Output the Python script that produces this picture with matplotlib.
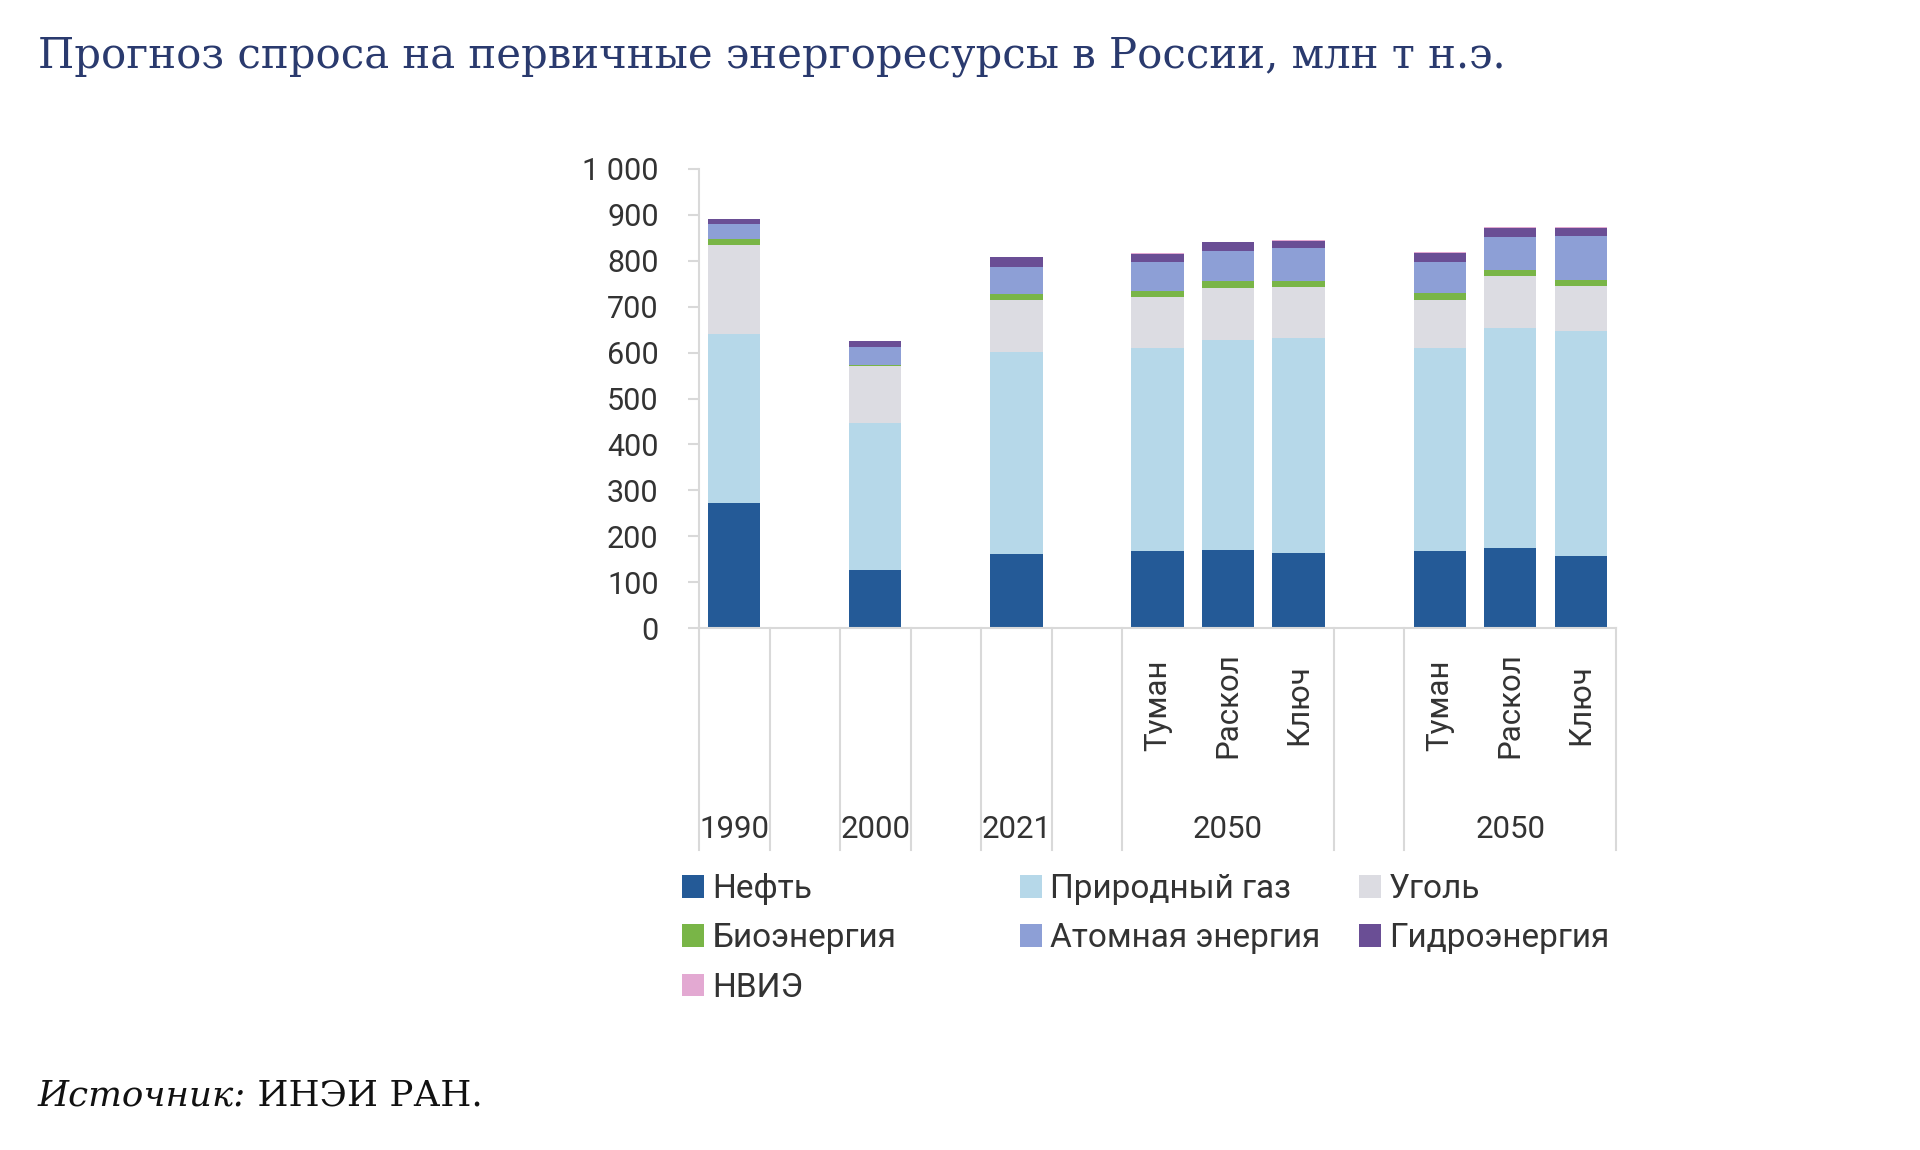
import numpy as np
import matplotlib
matplotlib.use("Agg")
import matplotlib.pyplot as plt
from matplotlib.patches import Patch
import matplotlib.transforms as mtransforms

# ---------------- data ----------------
title = "Прогноз спроса на первичные энергоресурсы в России, млн т н.э."
source_italic = "Источник:"
source_regular = " ИНЭИ РАН."

# 13 category slots ('' = empty gap slot)
scenarios = ['', '', '', '', '', '', 'Туман', 'Раскол', 'Ключ', '', 'Туман', 'Раскол', 'Ключ']
years     = ['1990', '', '2000', '', '2021', '', '2050', '2050', '2050', '', '2050', '2050', '2050']

series_names = ['Нефть', 'Природный газ', 'Уголь', 'Биоэнергия',
                'Атомная энергия', 'Гидроэнергия', 'НВИЭ']
oil   = [272, None, 127, None, 161, None, 168, 170, 163, None, 168, 174, 157]
gas   = [368, None, 319, None, 441, None, 442, 458, 468, None, 442, 479, 491]
coal  = [195, None, 124, None, 113, None, 112, 112, 111, None, 105, 113, 98]
bio   = [12,  None, 4,   None, 12,  None, 13,  15,  13,  None, 14,  15,  12]
nuc   = [33,  None, 39,  None, 60,  None, 63,  67,  72,  None, 69,  71,  97]
hydro = [12,  None, 12,  None, 21,  None, 17,  18,  17,  None, 20,  20,  17]
nvie  = [0,   None, 0,   None, 0,   None, 1,   1,   1,   None, 1,   2,   1]

colors = ['#245a97', '#b6d8e9', '#dcdce2', '#79b547', '#8d9fd6', '#6a4e95', '#e3a9d2']

yticks = [0, 100, 200, 300, 400, 500, 600, 700, 800, 900, 1000]
ytick_labels = ['0', '100', '200', '300', '400', '500', '600', '700', '800', '900', '1 000']

# ---------------- figure ----------------
FONT = ['Roboto', 'DejaVu Sans']
plt.rcParams['font.family'] = FONT
TXT = '#333333'
LINE = '#d9d9d9'

W, H = 1920, 1150
fig = plt.figure(figsize=(W / 100, H / 100), dpi=100)
fig.patch.set_facecolor('white')

x0, x1, yb, yt = 699, 1616, 628, 169
ax = fig.add_axes([x0 / W, 1 - yb / H, (x1 - x0) / W, (yb - yt) / H])

x = np.arange(len(scenarios))
series = [oil, gas, coal, bio, nuc, hydro, nvie]
bottom = np.zeros(len(x))
for name, vals, c in zip(series_names, series, colors):
    v = np.array([np.nan if s is None else s for s in vals], dtype=float)
    mask = ~np.isnan(v)
    ax.bar(x[mask], v[mask], bottom=bottom[mask], width=0.74, color=c,
           edgecolor='none', label=name, zorder=2)
    bottom = bottom + np.nan_to_num(v)

ax.set_xlim(-0.5, len(x) - 0.5)
ax.set_ylim(0, 1000)
for side in ['top', 'right']:
    ax.spines[side].set_visible(False)
for side in ['left', 'bottom']:
    ax.spines[side].set_color(LINE)
    ax.spines[side].set_linewidth(1.5)
ax.set_yticks(yticks)
ax.set_yticklabels(ytick_labels)
ax.tick_params(axis='y', length=8, width=1.5, color=LINE, labelsize=22,
               labelcolor=TXT, pad=21)
ax.set_xticks([])

# multi-level category axis
trans = mtransforms.blended_transform_factory(ax.transData, ax.transAxes)
sep_bottom = -(850 - yb) / (yb - yt)
bounds = [-0.5]
i = 0
groups = []
while i < len(years):
    if years[i] == '':
        bounds.append(i + 0.5)
        i += 1
        continue
    j = i
    while j + 1 < len(years) and years[j + 1] == years[i] and scenarios[j + 1] != '':
        j += 1
    groups.append((years[i], i, j))
    bounds.append(j + 0.5)
    i = j + 1
for b in sorted(set(bounds)):
    ax.plot([b, b], [0, sep_bottom], transform=trans, color=LINE, lw=1.5,
            clip_on=False, zorder=1)

year_y = -(830 - yb) / (yb - yt)
for label, a, b in groups:
    ax.text((a + b) / 2, year_y, label, transform=trans, ha='center', va='center',
            fontsize=22.5, color=TXT)

scen_y = -(705 - yb) / (yb - yt)
for xi, s in zip(x, scenarios):
    if s:
        ax.text(xi, scen_y, s, transform=trans, ha='center', va='center',
                rotation=90, fontsize=22.5, color=TXT)

# legend: three columns, row-wise order
handles = [Patch(facecolor=c, edgecolor='none') for c in colors]
col_x = [682, 1020, 1359]
row_top = 873
for ci, cx in enumerate(col_x):
    idx = list(range(ci, len(series_names), 3))
    leg = fig.legend([handles[k] for k in idx], [series_names[k] for k in idx],
                     loc='upper left', bbox_to_anchor=(cx / W, 1 - row_top / H),
                     frameon=False, fontsize=24, handlelength=0.66, handleheight=0.66,
                     handletextpad=0.24, labelspacing=0.52, borderpad=0,
                     borderaxespad=0)
    for t in leg.get_texts():
        t.set_color(TXT)

# title
fig.text(38 / W, 1 - 56 / H, title, ha='left', va='center',
         fontfamily=['DejaVu Serif'], fontsize=30.1, color='#2a3a6e')

# source
t1 = fig.text(38 / W, 1 - 1096 / H, source_italic, ha='left', va='center',
              fontfamily=['DejaVu Serif'], fontstyle='italic', fontsize=25.7, color='#111111')
fig.canvas.draw()
bb = t1.get_window_extent(renderer=fig.canvas.get_renderer())
fig.text(bb.x1 / W, 1 - 1096 / H, source_regular, ha='left', va='center',
         fontfamily=['DejaVu Serif'], fontsize=25.7, color='#111111')

fig.savefig('out.png', dpi=100, facecolor='white')
